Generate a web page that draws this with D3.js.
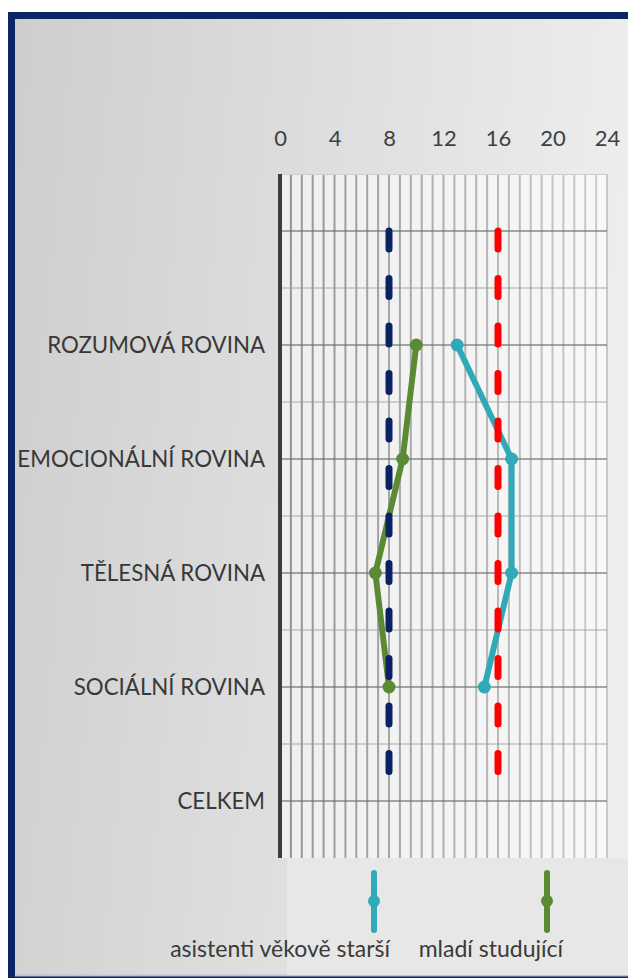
<!DOCTYPE html>
<html><head><meta charset="utf-8">
<script src="https://cdn.jsdelivr.net/npm/d3@7"></script>
<style>body{margin:0;background:#fff;} svg{display:block}</style>
</head><body><svg id="c" width="628" height="978"></svg>
<script>
// ---- data ----
const categories = ["", "ROZUMOVÁ ROVINA", "EMOCIONÁLNÍ ROVINA", "TĚLESNÁ ROVINA", "SOCIÁLNÍ ROVINA", "CELKEM"];
const seriesNames = ["asistenti věkově starší", "mladí studující"];
const olderValues = [null, 13, 17, 17, 15, null];
const youngValues = [null, 10, 9, 7, 8, null];
const refLowValues = [8, 8, 8, 8, 8, 8];
const refHighValues = [16, 16, 16, 16, 16, 16];
const xTicks = [0, 4, 8, 12, 16, 20, 24];

// ---- layout ----
const svg = d3.select("#c");
const W = 628, H = 978;
const FONT = "Lato, 'Open Sans', sans-serif";
const x = d3.scaleLinear().domain([0, 24]).range([280, 607]);
const y = d3.scaleBand().domain(categories).range([174, 858]).padding(0);
const yc = c => y(c) + y.bandwidth() / 2;

const defs = svg.append("defs");
const bg = defs.append("linearGradient").attr("id", "bg").attr("x1", "0").attr("y1", "0").attr("x2", "1").attr("y2", "0.15");
bg.append("stop").attr("offset", "0").attr("stop-color", "#cecece");
bg.append("stop").attr("offset", "0.5").attr("stop-color", "#dedede");
bg.append("stop").attr("offset", "1").attr("stop-color", "#eeeeee");
const pg = defs.append("linearGradient").attr("id", "pg").attr("x1", "0").attr("y1", "0").attr("x2", "1").attr("y2", "0");
pg.append("stop").attr("offset", "0").attr("stop-color", "#efefef");
pg.append("stop").attr("offset", "1").attr("stop-color", "#f8f8f8");

// frame
svg.append("rect").attr("x", 0).attr("y", 0).attr("width", W).attr("height", H).attr("fill", "#ffffff");
svg.append("rect").attr("x", 8).attr("y", 12).attr("width", W).attr("height", H).attr("fill", "#0b2566");
svg.append("rect").attr("x", 15).attr("y", 19).attr("width", W).attr("height", 956).attr("fill", "url(#bg)");
svg.append("line").attr("x1", 15).attr("x2", W).attr("y1", 975.5).attr("y2", 975.5).attr("stroke", "#b6c4de").attr("stroke-width", 2);
// lighter plot/legend panel
svg.append("rect").attr("x", 287).attr("y", 858).attr("width", W - 287).attr("height", 117).attr("fill", "#e7e7e7");
svg.append("rect").attr("x", x(0)).attr("y", y.range()[0]).attr("width", x(24) - x(0)).attr("height", y.range()[1] - y.range()[0]).attr("fill", "url(#pg)");

// vertical gridlines (minor every 0.8)
const vGrid = d3.range(1, 31).map(i => i * 0.8);
const fade = d3.scaleLinear().domain([0, 24]).range([0.8, 0.35]);
svg.append("g").selectAll("line").data(vGrid).join("line")
  .attr("x1", d => x(d)).attr("x2", d => x(d))
  .attr("y1", y.range()[0]).attr("y2", y.range()[1])
  .attr("stroke", "#7d7d7d").attr("stroke-opacity", d => fade(d)).attr("stroke-width", 2);
svg.append("line").attr("x1", x(0)).attr("x2", x(24)).attr("y1", 174.5).attr("y2", 174.5).attr("stroke", "#d0d0d0").attr("stroke-width", 1);

// horizontal gridlines: band boundaries (light) and category centres (dark)
const boundaries = categories.slice(1).map(c => y(c));
svg.append("g").selectAll("line").data(boundaries).join("line")
  .attr("x1", x(0)).attr("x2", x(24)).attr("y1", d => d).attr("y2", d => d)
  .attr("stroke", "#9a9a9a").attr("stroke-opacity", 0.55).attr("stroke-width", 1.5);
svg.append("g").selectAll("line").data(categories).join("line")
  .attr("x1", x(0)).attr("x2", x(24)).attr("y1", d => yc(d)).attr("y2", d => yc(d))
  .attr("stroke", "#6e6e6e").attr("stroke-opacity", 0.8).attr("stroke-width", 1.6);

// left axis line
svg.append("line").attr("x1", x(0)).attr("x2", x(0)).attr("y1", y.range()[0]).attr("y2", y.range()[1])
  .attr("stroke", "#3c3c3c").attr("stroke-width", 4);

// top axis labels
const xAxis = d3.axisTop(x).tickValues(xTicks).tickSize(0).tickPadding(0);
const gx = svg.append("g").attr("transform", "translate(0,146)").call(xAxis);
gx.select(".domain").remove();
gx.selectAll("text").attr("font-family", FONT).attr("font-size", 22).attr("fill", "#404040").attr("dy", 0);

// category labels
const yAxis = d3.axisLeft(y).tickSize(0).tickPadding(0);
const gy = svg.append("g").attr("transform", "translate(265,0)").call(yAxis);
gy.select(".domain").remove();
gy.selectAll("text").attr("font-family", FONT).attr("font-size", 22.3).attr("fill", "#383838").attr("dy", "0.36em");

// series lines
const line = d3.line().defined(d => d.v != null).x(d => x(d.v)).y(d => yc(d.c));
const toPts = arr => arr.map((v, i) => ({ c: categories[i], v }));
const teal = "#31a9b7", green = "#5a8a33", navy = "#0a2263", red = "#ff0000";

svg.append("path").datum(toPts(youngValues)).attr("d", line).attr("fill", "none")
  .attr("stroke", green).attr("stroke-width", 6).attr("stroke-linejoin", "round");
svg.append("path").datum(toPts(olderValues)).attr("d", line).attr("fill", "none")
  .attr("stroke", teal).attr("stroke-width", 6).attr("stroke-linejoin", "round");

// reference dashed lines
[[refLowValues, navy], [refHighValues, red]].forEach(([vals, col]) => {
  svg.append("path").datum(toPts(vals)).attr("d", line).attr("fill", "none")
    .attr("stroke", col).attr("stroke-width", 7).attr("stroke-linecap", "round")
    .attr("stroke-dasharray", "18,29.5");
});

// markers
[[youngValues, green], [olderValues, teal]].forEach(([vals, col]) => {
  svg.append("g").selectAll("circle").data(toPts(vals).filter(d => d.v != null)).join("circle")
    .attr("cx", d => x(d.v)).attr("cy", d => yc(d.c)).attr("r", 6.5).attr("fill", col);
});

// legend
const legend = [
  { name: seriesNames[0], color: teal, mx: 374, tx: 390 },
  { name: seriesNames[1], color: green, mx: 547, tx: 563 }
];
const lg = svg.append("g").selectAll("g").data(legend).join("g");
lg.append("line").attr("x1", d => d.mx).attr("x2", d => d.mx).attr("y1", 873).attr("y2", 930)
  .attr("stroke", d => d.color).attr("stroke-width", 6).attr("stroke-linecap", "round");
lg.append("circle").attr("cx", d => d.mx).attr("cy", 901).attr("r", 6).attr("fill", d => d.color);
lg.append("text").attr("x", d => d.tx).attr("y", 957).attr("text-anchor", "end")
  .attr("font-family", FONT).attr("font-size", 23).attr("fill", "#3a3a3a").text(d => d.name);
</script></body></html>
